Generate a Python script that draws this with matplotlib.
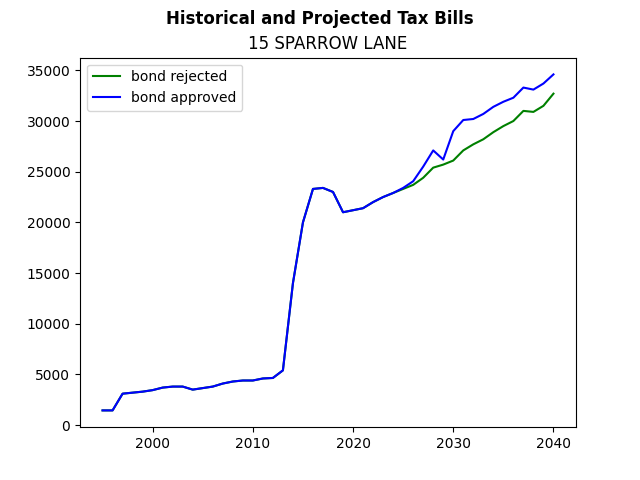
import numpy as np
import matplotlib
matplotlib.use("Agg")
from matplotlib import pyplot as plt

#Tax bill data, 1995-2040 #
years = list(range(1995, 2041))

history = [1450, 1450, 3100, 3200, 3300, 3450, 3700, 3800, 3800, 3500,
           3650, 3800, 4100, 4300, 4400, 4400, 4600, 4650, 5400, 14000,
           20000, 23300, 23400, 23000, 21000, 21200, 21400, 22000, 22500, 22900]

rejected_future = [23300, 23700, 24400, 25400, 25700, 26100, 27100, 27700, 28200,
                   28900, 29500, 30000, 31000, 30900, 31500, 32700]
approved_future = [23400, 24060, 25500, 27100, 26200, 29000, 30100, 30200, 30700,
                   31400, 31900, 32300, 33300, 33100, 33700, 34600]

bond_rejected = history + rejected_future
bond_approved = history + approved_future

#Plot ----------------------------------------------------------#
fig, ax = plt.subplots(figsize=(6.4, 4.8), dpi=100)
fig.suptitle("Historical and Projected Tax Bills", fontweight="bold")
ax.set_title("15 SPARROW LANE")

ax.plot(years, bond_rejected, color="green", label="bond rejected")
ax.plot(years, bond_approved, color="blue", label="bond approved")
ax.legend(loc="upper left")

fig.savefig("out.png")
